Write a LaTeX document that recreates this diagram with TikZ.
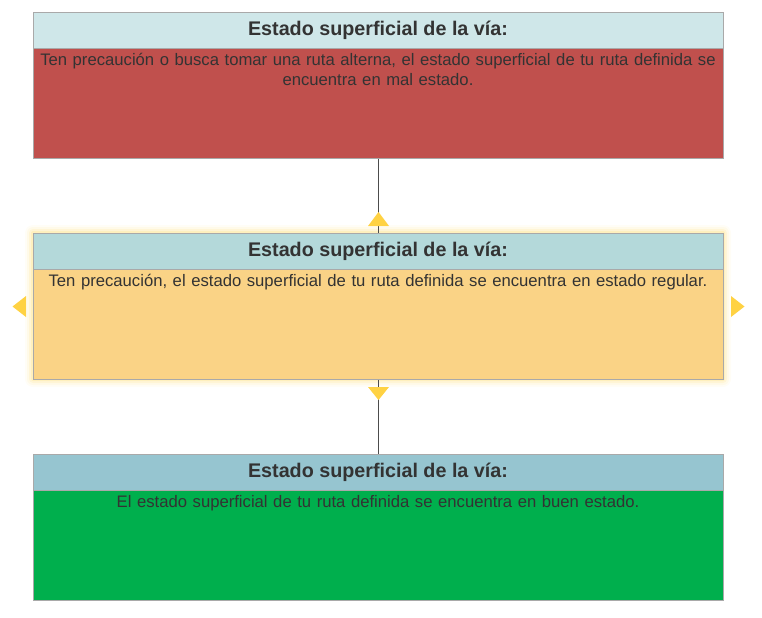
\documentclass[tikz,border=0pt]{standalone}
\usepackage{fontspec}
\setmainfont{Liberation Sans}
\usetikzlibrary{calc}
\definecolor{hdrA}{HTML}{CFE7E9}
\definecolor{hdrB}{HTML}{B4D9DA}
\definecolor{hdrC}{HTML}{96C5D0}
\definecolor{bodyRed}{HTML}{C0504D}
\definecolor{bodyYel}{HTML}{FAD386}
\definecolor{bodyGrn}{HTML}{00AF4D}
\definecolor{edgeGray}{HTML}{A9A9A9}
\definecolor{txt}{HTML}{333333}
\definecolor{tri}{HTML}{FFD243}
\definecolor{glow}{HTML}{FFD54F}
\tikzset{
  hdr/.style={draw=edgeGray, line width=0.75pt, minimum width=517.5pt, minimum height=27pt, anchor=north, inner sep=0pt, text=txt, font=\fontsize{14.8}{17}\selectfont\bfseries},
  bodybox/.style={draw=edgeGray, line width=0.75pt, minimum width=517.5pt, minimum height=82.5pt, anchor=north, inner sep=0pt},
  bodytxt/.style={anchor=north, text width=515pt, align=center, inner sep=0pt, text=txt, font=\fontsize{12.5}{15}\selectfont},
  conn/.style={draw=black!70, line width=0.75pt},
  trimark/.style={fill=tri}
}
\begin{document}
\hyphenpenalty=10000
\exhyphenpenalty=10000
\begin{tikzpicture}[x=0.75pt,y=-0.75pt]
\useasboundingbox (0,0) rectangle (762,617);
% glow around middle box
\foreach \g/\o in {8/0.05,6/0.08,4/0.12,2/0.18}{
  \fill[glow, opacity=\o, rounded corners=\g*0.75pt] (33-\g,233-\g) rectangle (723+\g,379+\g);
}
% top box
\node[bodybox, fill=bodyRed] (b1) at (378,48) {};
\node[hdr, fill=hdrA] (h1) at (378,12) {Estado superficial de la vía:};
\node[bodytxt] (t1) at (378,53) {Ten precaución o busca tomar una ruta alterna, el estado superficial de tu ruta definida se\\ encuentra en mal estado.};
% middle box
\node[bodybox, fill=bodyYel] (b2) at (378,269) {};
\node[hdr, fill=hdrB] (h2) at (378,233) {Estado superficial de la vía:};
\node[bodytxt] (t2) at (378,274) {Ten precaución, el estado superficial de tu ruta definida se encuentra en estado regular.};
% bottom box
\node[bodybox, fill=bodyGrn] (b3) at (378,490) {};
\node[hdr, fill=hdrC] (h3) at (378,454) {Estado superficial de la vía:};
\node[bodytxt] (t3) at (378,495) {El estado superficial de tu ruta definida se encuentra en buen estado.};
% connectors
\draw[conn] (b1.south) -- (h2.north);
\draw[conn] (b2.south) -- (h3.north);
% handles
\fill[trimark] (368,226) -- (389,226) -- (378.5,212) -- cycle;
\fill[trimark] (368,387) -- (389,387) -- (378.5,400) -- cycle;
\fill[trimark] (26,296) -- (26,317) -- (12.5,306.5) -- cycle;
\fill[trimark] (731,296) -- (731,317) -- (744.5,306.5) -- cycle;
\end{tikzpicture}
\end{document}
